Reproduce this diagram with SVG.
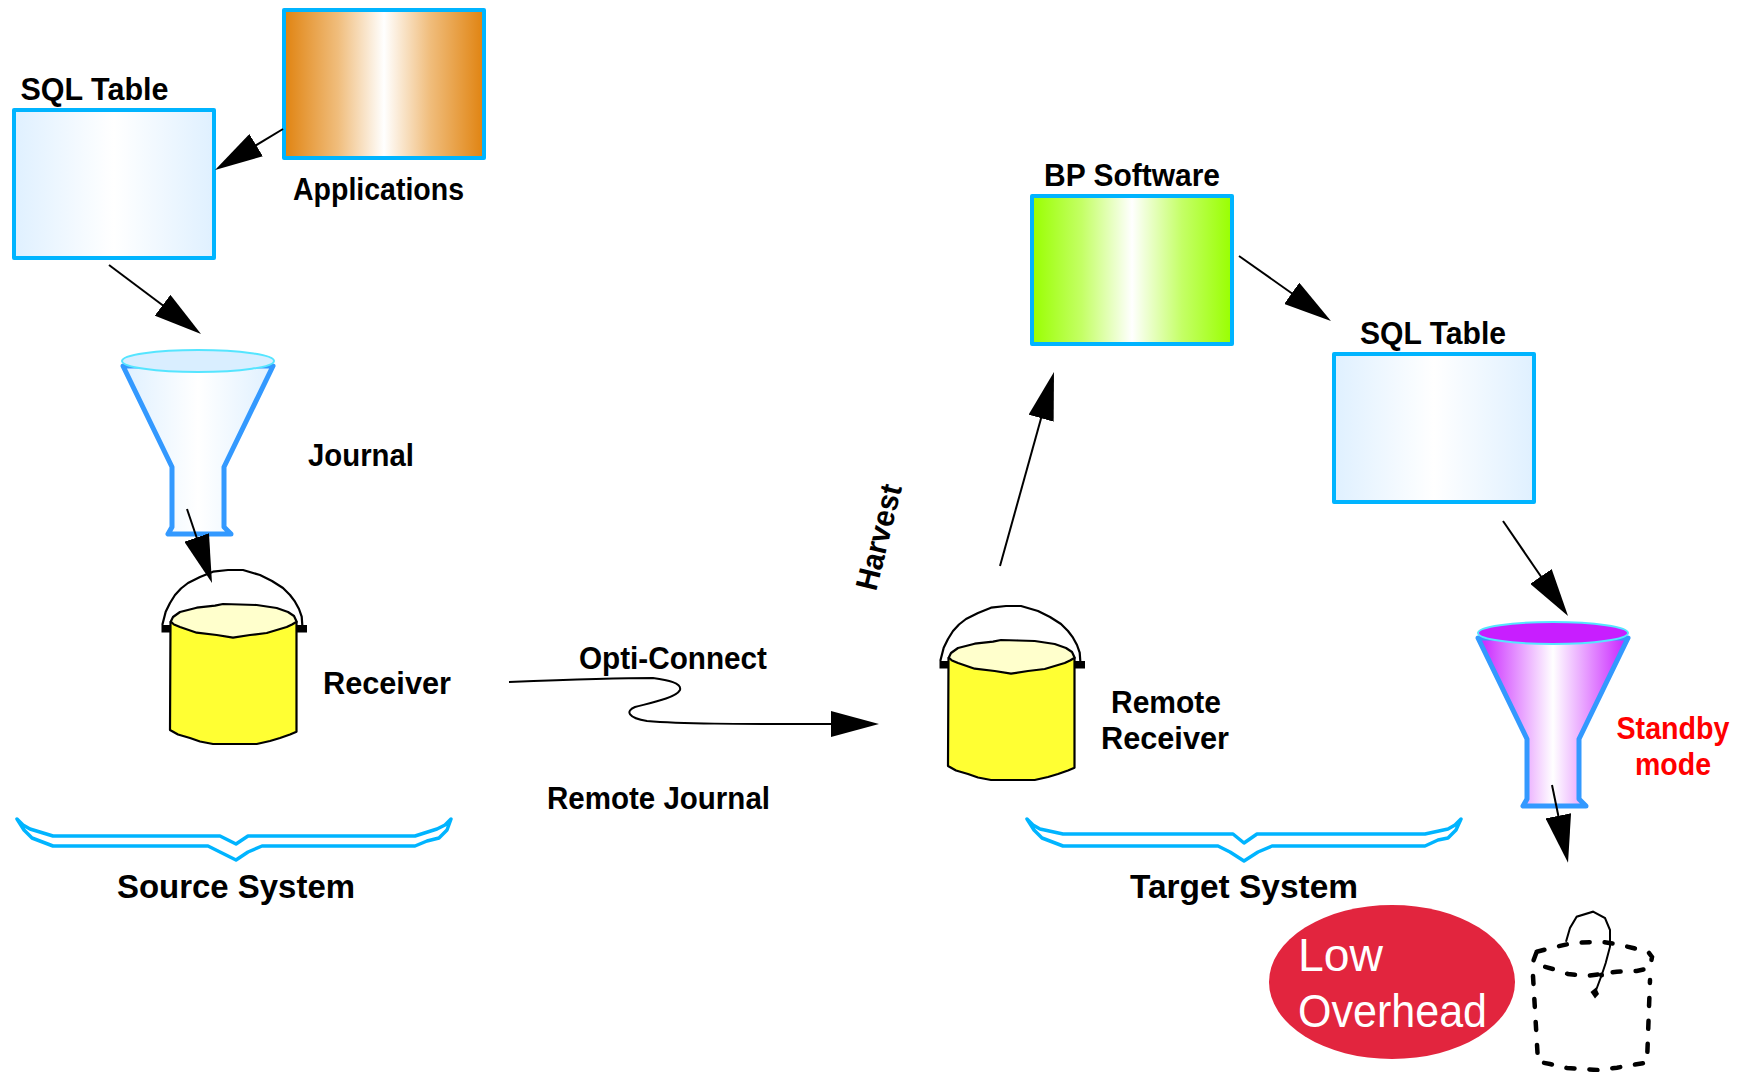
<svg xmlns="http://www.w3.org/2000/svg" xmlns:xlink="http://www.w3.org/1999/xlink" width="1750" height="1072" viewBox="0 0 1750 1072">
<style>
text{font-family:"Liberation Sans",Arial,sans-serif;font-weight:700;font-size:31px;fill:#000}
.c{text-anchor:middle}
.box{stroke:#00b4ff;stroke-width:4;stroke-linejoin:round}
.funnel{stroke:#3399ff;stroke-width:5;stroke-linejoin:round}
.rim{stroke:#55e5ff;stroke-width:2}
.brace{fill:none;stroke:#00b4ff;stroke-width:3.5;stroke-linejoin:round;stroke-linecap:round}
.ln{fill:none;stroke:#000;stroke-width:2}
.ar{marker-end:url(#head)}
.bk{stroke:#000;stroke-width:2.2;stroke-linejoin:round}
.dash{fill:none;stroke:#000;stroke-width:4.500;stroke-dasharray:8 15;stroke-linecap:round}
.big{font-size:33px}
.low{font-weight:400;font-size:46px;fill:#fff}
.red{fill:#f00}
</style>
<defs>
<marker id="head" markerUnits="userSpaceOnUse" markerWidth="48" markerHeight="26" viewBox="0 0 48 26" refX="38" refY="13" orient="auto"><path d="M0 0L48 13L0 26Z" fill="#000"/></marker>
<linearGradient id="blue"><stop offset="0" stop-color="#dff0ff"/><stop offset=".5" stop-color="#fff"/><stop offset="1" stop-color="#dff0ff"/></linearGradient>
<linearGradient id="orange"><stop offset="0" stop-color="#e08310"/><stop offset=".27" stop-color="#f0bd7c"/><stop offset=".5" stop-color="#fff"/><stop offset=".73" stop-color="#f0bd7c"/><stop offset="1" stop-color="#e08310"/></linearGradient>
<linearGradient id="green"><stop offset="0" stop-color="#99ff00"/><stop offset=".25" stop-color="#c4ff66"/><stop offset=".5" stop-color="#fff"/><stop offset=".75" stop-color="#c4ff66"/><stop offset="1" stop-color="#99ff00"/></linearGradient>
<linearGradient id="purple"><stop offset="0" stop-color="#c81eff"/><stop offset=".5" stop-color="#fff"/><stop offset="1" stop-color="#c81eff"/></linearGradient>
<g id="bucket">
<polyline class="bk" fill="none" points="162.3,625 165.7,611.7 170,603 175,595 181,588.500 188,583 200,577 213,571.700 228,570 243,570 260,575 272,581 283,588 290,595 295,601.700 299,609 301.700,616.700 302.300,625"/>
<rect x="161.500" y="625" width="10" height="7.500" fill="#000"/><rect x="297" y="625" width="10" height="7.500" fill="#000"/>
<polygon class="bk" fill="#ffff33" points="170.500,622 170,730 178,734.500 190,738 200,741.500 213,744 256.700,744 270,741 280,738 290,734.500 296.500,731.700 296.500,622"/>
<polygon class="bk" fill="#ffffcc" points="170.700,621.700 173,617 180,612 196.700,607.700 215,605.700 223,604 240,604.500 256.700,605 276.700,608 288,612 294,616 296.700,621.700 292,624.500 286.700,627 266.700,633 250,635 233,637.700 216.700,635 196.700,632.700 180,627 174,624.500"/>
</g>
</defs>

<g id="applications"><rect class="box" x="284" y="10" width="200" height="148" fill="url(#orange)"/><text x="293" y="200" textLength="171" lengthAdjust="spacingAndGlyphs">Applications</text></g>
<g id="sql-table-1"><rect class="box" x="14" y="110" width="200" height="148" fill="url(#blue)"/><text x="20.500" y="100" textLength="148" lengthAdjust="spacingAndGlyphs">SQL Table</text></g>
<g id="journal">
<polygon class="funnel" fill="url(#blue)" points="123,366 172,467 172,527 168,534 231,534 224,527 224,467 273,366"/>
<ellipse class="rim" cx="198" cy="361" rx="76" ry="11" fill="#d9eeff"/>
<text x="308" y="466" textLength="106" lengthAdjust="spacingAndGlyphs">Journal</text></g>
<g id="receiver"><use href="#bucket"/><text x="323" y="694" textLength="128" lengthAdjust="spacingAndGlyphs">Receiver</text></g>
<g id="remote-receiver"><use href="#bucket" transform="translate(778,36)"/><text class="c" x="1166" y="713" textLength="110" lengthAdjust="spacingAndGlyphs">Remote</text><text class="c" x="1165" y="749" textLength="128" lengthAdjust="spacingAndGlyphs">Receiver</text></g>
<g id="bp-software"><rect class="box" x="1032" y="196" width="200" height="148" fill="url(#green)"/><text class="c" x="1132" y="186" textLength="176" lengthAdjust="spacingAndGlyphs">BP Software</text></g>
<g id="sql-table-2"><rect class="box" x="1334" y="354" width="200" height="148" fill="url(#blue)"/><text class="c" x="1433" y="344" textLength="146" lengthAdjust="spacingAndGlyphs">SQL Table</text></g>
<g id="standby-journal">
<polygon class="funnel" fill="url(#purple)" points="1478,638 1527,739 1527,799 1523,806 1586,806 1579,799 1579,739 1628,638"/>
<ellipse class="rim" cx="1553" cy="633" rx="75" ry="11" fill="#c81eff"/>
<text class="c red" x="1673" y="739" textLength="113" lengthAdjust="spacingAndGlyphs">Standby</text><text class="c red" x="1673" y="775" textLength="76" lengthAdjust="spacingAndGlyphs">mode</text></g>
<g id="standby-receiver">
<polygon class="dash" points="1536.7,951.7 1555,947 1573,943 1600,941.700 1616.700,944 1633,948 1648,951.700 1652,957 1650,968 1636.700,971 1616.700,971.700 1586.700,976 1568,974 1553,969 1538,965 1533,961.700"/>
<polyline class="dash" points="1533,976 1538,1061.700 1550,1064 1567,1068 1597,1070 1617,1067.700 1632,1065 1647,1062.700 1650,980"/>
<polyline class="ln" points="1566,941.700 1570,928 1576.700,916.700 1593,911.700 1605,918 1610,930 1610,946.700 1605.700,963 1601.700,975 1595,993"/>
<polygon points="1590.500,992 1596,987.500 1599,994 1595,998.500" fill="#000"/><circle cx="1601.500" cy="975" r="2.500" fill="#000"/>
</g>
<g id="low-overhead"><ellipse cx="1392" cy="982" rx="123" ry="77" fill="#e2253e"/>
<text class="low" x="1298" y="971" textLength="85" lengthAdjust="spacingAndGlyphs">Low</text><text class="low" x="1298" y="1027" textLength="189" lengthAdjust="spacingAndGlyphs">Overhead</text></g>
<g id="source-system"><polygon class="brace" points="17,819 23,825 30,829 53,836 220,836 236,844 248,836 415,836 437,829 445,825 451,819 447,830 439,838 427,841 415,846 262,846 248,852 236,860 220,852 208,846 53,846 32,838 24,830"/><text class="c big" x="236" y="898" textLength="238" lengthAdjust="spacingAndGlyphs">Source System</text></g>
<g id="target-system"><polygon class="brace" points="1027,819 1033,825 1040,829 1063,834 1233,834 1244,843 1257,834 1425,834 1448,829 1455,825 1461,819 1456,830 1448,838 1438,840 1425,846 1272,846 1258,852 1244,861 1230,852 1218,846 1063,846 1042,838 1034,830"/><text class="c big" x="1244" y="898" textLength="228" lengthAdjust="spacingAndGlyphs">Target System</text></g>
<text id="opti-connect" x="579" y="669" textLength="188" lengthAdjust="spacingAndGlyphs">Opti-Connect</text>
<text id="remote-journal" x="547" y="809" textLength="223" lengthAdjust="spacingAndGlyphs">Remote Journal</text>
<text id="harvest" transform="translate(876,592) rotate(-76)" textLength="108" lengthAdjust="spacingAndGlyphs">Harvest</text>

<g id="connectors">
<line class="ln ar" x1="283" y1="129" x2="223.600" y2="164.800"/>
<line class="ln ar" x1="109" y1="265" x2="193" y2="328"/>
<line class="ln ar" x1="187" y1="509" x2="208.800" y2="573.500"/>
<path class="ln ar" d="M509 682C560 680 620 678 653 678C668 680 682 683 680 690C676 698 650 703 635 707C625 711 628 718 647 721C680 724 720 724 869 724"/>
<line class="ln ar" x1="1000" y1="566" x2="1051.300" y2="381.600"/>
<line class="ln ar" x1="1239" y1="256" x2="1322.800" y2="315.200"/>
<line class="ln ar" x1="1503" y1="521" x2="1562.400" y2="607.800"/>
<line class="ln ar" x1="1552" y1="785" x2="1566" y2="853"/>
</g>
</svg>
